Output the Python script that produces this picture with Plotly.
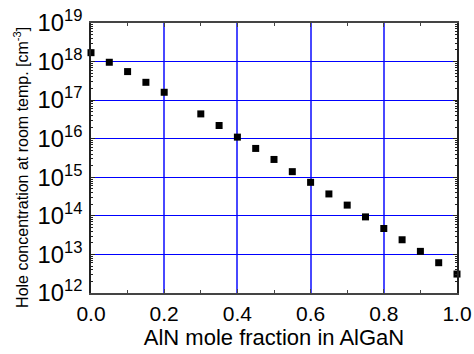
import plotly.graph_objects as go

aln_fraction = [0.0, 0.05, 0.10, 0.15, 0.20, 0.30, 0.35, 0.40, 0.45, 0.50,
                0.55, 0.60, 0.65, 0.70, 0.75, 0.80, 0.85, 0.90, 0.95, 1.00]
hole_conc = [1.7e18, 9.6e17, 5.5e17, 2.9e17, 1.6e17, 4.4e16, 2.2e16, 1.1e16, 5.6e15, 2.9e15,
             1.4e15, 7.4e14, 3.7e14, 1.9e14, 9.4e13, 4.7e13, 2.4e13, 1.2e13, 6.1e12, 3.1e12]

x_ticks = [0.0, 0.2, 0.4, 0.6, 0.8, 1.0]
x_tick_labels = ["0.0", "0.2", "0.4", "0.6", "0.8", "1.0"]
x_title = "AlN mole fraction in AlGaN"
y_title = "Hole concentration at room temp. [cm<sup>-3</sup>]"

font_family = "Liberation Sans, Arial, sans-serif"

fig = go.Figure()
fig.add_trace(go.Scatter(
    x=aln_fraction, y=hole_conc, mode="markers",
    marker=dict(symbol="square", size=7, color="black"),
    cliponaxis=False, showlegend=False,
))

fig.update_layout(
    width=474, height=354,
    margin=dict(l=91, r=17, t=23, b=61),
    paper_bgcolor="white", plot_bgcolor="white",
    font=dict(family=font_family, color="black"),
)

fig.update_xaxes(
    range=[0, 1], automargin=False,
    tickvals=x_ticks, ticktext=x_tick_labels,
    tickfont=dict(size=21), ticklabelstandoff=1,
    showgrid=True, gridcolor="rgba(40,40,255,0.85)", gridwidth=1.5,
    showline=True, linecolor="#444444", linewidth=1.5, mirror="ticks",
    ticks="inside", ticklen=4, tickcolor="#444444",
    minor=dict(ticks="inside", ticklen=3, dtick=0.1, tickcolor="#444444", showgrid=False),
    zeroline=False,
    title=dict(text=x_title, font=dict(size=22), standoff=6),
)

fig.update_yaxes(
    type="log", range=[12, 19], dtick=1, automargin=False,
    exponentformat="power",
    tickfont=dict(size=19), ticklabelstandoff=3,
    showgrid=True, gridcolor="#0000ff", gridwidth=1,
    showline=True, linecolor="#222222", linewidth=1.5, mirror="ticks",
    ticks="inside", ticklen=4, tickcolor="#222222",
    minor=dict(ticks="inside", ticklen=2, dtick="D1", tickcolor="#222222", showgrid=False),
    zeroline=False,
)

# y-axis title placed as rotated text left of the tick labels
fig.add_annotation(
    text=y_title, textangle=-90, showarrow=False,
    xref="paper", yref="paper", x=-0.19, y=0.465,
    xanchor="center", yanchor="middle",
    font=dict(size=16, family=font_family, color="black"),
)

fig.write_html("out.html", config={"displayModeBar": False},
               post_script="document.body.style.margin='0';")
